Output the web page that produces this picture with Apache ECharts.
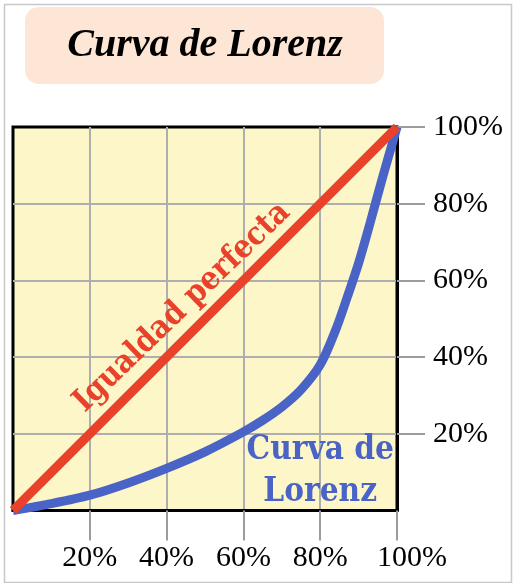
<!DOCTYPE html>
<html><head><meta charset="utf-8">
<script src="https://cdn.jsdelivr.net/npm/echarts@6/dist/echarts.min.js"></script>
<style>html,body{margin:0;padding:0;background:#fff}#c{width:516px;height:583px}</style>
</head><body><div id="c"></div>
<script>
const titleText = 'Curva de Lorenz';
const equalityLabel = 'Igualdad perfecta';
const lorenzLabel = 'Curva de\nLorenz';
const tickLabels = ['0%', '20%', '40%', '60%', '80%', '100%'];
const equalityX = [0, 100];
const equalityY = [0, 100];
const lorenzX = [0, 10, 20, 30, 40, 50, 60, 65, 70, 75, 80, 84, 87, 90, 93, 96, 100];
const lorenzY = [0, 1.8, 4, 7.2, 11, 15.3, 20.5, 23.5, 27, 31.5, 38, 47, 55.5, 64.5, 75, 86, 100];

const chart = echarts.init(document.getElementById('c'), null, {renderer: 'canvas'});
const gridColor = '#aeaeae';
const tickColor = '#9c9c9c';
const serif = '"Liberation Serif", serif';
const skipFirst = i => i > 0;

const option = {
  backgroundColor: '#ffffff',
  animation: false,
  grid: {left: 13, right: 119, top: 127, bottom: 72.5, show: true,
         backgroundColor: '#fdf6c9', borderColor: '#000', borderWidth: 3},
  xAxis: [
    {type: 'value', min: 0, max: 100, interval: 20,
     axisLine: {show: false}, axisTick: {show: false}, axisLabel: {show: false},
     splitLine: {show: true, showMinLine: false, showMaxLine: false, lineStyle: {color: gridColor, width: 2}}},
    {type: 'category', boundaryGap: false, data: tickLabels, position: 'bottom',
     axisLine: {show: true, onZero: false, lineStyle: {color: '#000', width: 3}},
     axisTick: {show: true, interval: skipFirst, length: 30, lineStyle: {color: tickColor, width: 2}},
     axisLabel: {interval: skipFirst, margin: 33, fontFamily: serif, fontSize: 30, color: '#000',
                 formatter: (v, i) => i === tickLabels.length - 1 ? '{last|' + v + '}' : v,
                 rich: {last: {fontFamily: serif, fontSize: 30, color: '#000', padding: [0, 0, 0, 30]}}},
     splitLine: {show: false}}
  ],
  yAxis: [
    {type: 'value', min: 0, max: 100, interval: 20,
     axisLine: {show: false}, axisTick: {show: false}, axisLabel: {show: false},
     splitLine: {show: true, showMinLine: false, showMaxLine: false, lineStyle: {color: gridColor, width: 2}}},
    {type: 'category', boundaryGap: false, data: tickLabels, position: 'right',
     axisLine: {show: true, onZero: false, lineStyle: {color: '#000', width: 3}},
     axisTick: {show: true, interval: skipFirst, length: 28, lineStyle: {color: tickColor, width: 2}},
     axisLabel: {interval: skipFirst, margin: 36, fontFamily: serif, fontSize: 30, color: '#000'},
     splitLine: {show: false}}
  ],
  series: [
    {type: 'line', xAxisIndex: 0, yAxisIndex: 0, data: lorenzX.map((x, i) => [x, lorenzY[i]]), smooth: 0.3,
     symbol: 'none', lineStyle: {color: '#4a63c6', width: 9}, z: 3},
    {type: 'line', xAxisIndex: 0, yAxisIndex: 0, data: equalityX.map((x, i) => [x, equalityY[i]]), symbol: 'none',
     lineStyle: {color: '#e9412a', width: 9, cap: 'butt'}, z: 4}
  ]
};
chart.setOption(option);

const pEq = chart.convertToPixel({xAxisIndex: 0, yAxisIndex: 0}, [48.5, 48.5]);
const pLz = chart.convertToPixel({xAxisIndex: 0, yAxisIndex: 0}, [80, 10.3]);
chart.setOption({
  graphic: [
    {type: 'rect', left: 2, top: 2, shape: {width: 507, height: 578},
     style: {fill: 'none', stroke: '#c8c8c8', lineWidth: 1.5}, silent: true, z: 100},
    {type: 'rect', x: 25, y: 7, shape: {width: 359, height: 77, r: 14},
     style: {fill: '#fde6d5'}, z: 100},
    {type: 'text', x: 205, y: 46, z: 101,
     style: {text: titleText, font: 'italic bold 40px "Liberation Serif", serif', fill: '#000',
             align: 'center', verticalAlign: 'middle'}},
    {type: 'text', x: pEq[0] - 17, y: pEq[1] - 17, rotation: 44 * Math.PI / 180, z: 101,
     style: {text: equalityLabel, font: 'bold 32px "DejaVu Serif Condensed", "DejaVu Serif", serif', fill: '#e9412a',
             align: 'center', verticalAlign: 'middle'}},
    {type: 'text', x: pLz[0], y: pLz[1], z: 101,
     style: {text: lorenzLabel, font: 'bold 33px "DejaVu Serif Condensed", "DejaVu Serif", serif', fill: '#4a63c6',
             align: 'center', verticalAlign: 'middle', lineHeight: 42}}
  ]
});
</script></body></html>
